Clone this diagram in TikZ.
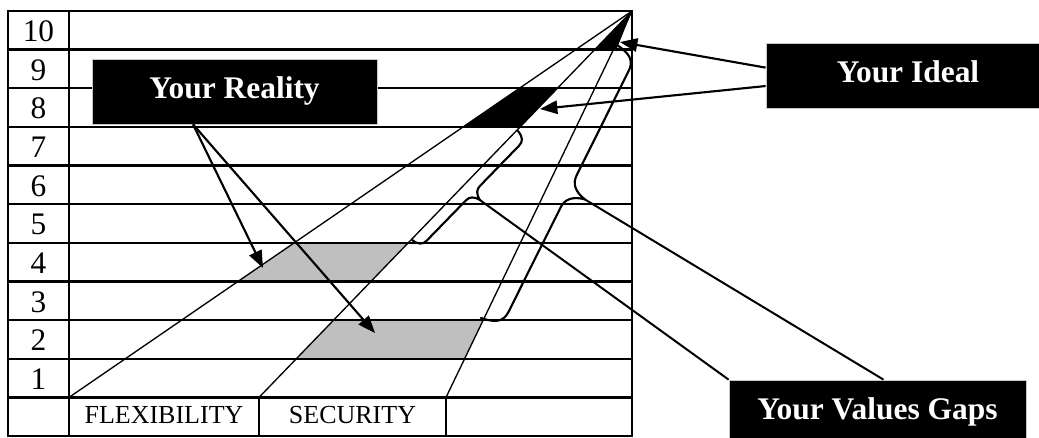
\documentclass[tikz,border=0pt]{standalone}
\usepackage{fontspec}
\setmainfont{Liberation Serif}
\usetikzlibrary{calc,arrows.meta}
\begin{document}
\begin{tikzpicture}[x=0.75pt,y=-0.75pt,
  gridline/.style={line width=1.8pt},
  ray/.style={line width=1.0pt},
  bracepath/.style={line width=1.6pt, line join=round, line cap=round},
  pointer/.style={line width=1.6pt, -{Triangle[length=13pt,width=10pt]}},
  callout/.style={line width=1.5pt},
  labelbox/.style={fill=black, draw=gray!45, line width=0.6pt, text=white,
    font=\fontsize{23.6}{28}\selectfont\bfseries, text height=16.5pt, text depth=5.9pt, inner sep=0pt},
  numtext/.style={font=\fontsize{23.5}{26}\selectfont, inner sep=0pt, anchor=base},
  coltext/.style={font=\fontsize{19.5}{22}\selectfont, inner sep=0pt, anchor=base}
]
\useasboundingbox (0,0) rectangle (1039,437);
\clip (0,0) rectangle (1039,437);

\coordinate (apex) at (632,11);
\coordinate (b1) at (69,397.4);
\coordinate (b2) at (259,397.4);
\coordinate (b3) at (446,397.4);

% fills
\fill[gray!50] ($(apex)!.6!(b1)$) -- ($(apex)!.6!(b2)$) -- ($(apex)!.7!(b2)$) -- ($(apex)!.7!(b1)$) -- cycle;
\fill[gray!50] ($(apex)!.8!(b2)$) -- ($(apex)!.8!(b3)$) -- ($(apex)!.9!(b3)$) -- ($(apex)!.9!(b2)$) -- cycle;
\fill ($(apex)!.2!(b1)$) -- ($(apex)!.2!(b2)$) -- ($(apex)!.3!(b2)$) -- ($(apex)!.3!(b1)$) -- cycle;
\fill (apex) -- ($(apex)!.1!(b2)$) -- ($(apex)!.1!(b3)+(3,0)$) -- cycle;

% table
\foreach \k in {1,...,10} \draw[gridline] (8,{11+38.64*\k}) -- (632,{11+38.64*\k});
\draw[gridline] (8,11) rectangle (632,436);
\draw[gridline] (69,11) -- (69,436);
\draw[gridline] (259,397.4) -- (259,436);
\draw[gridline] (446,397.4) -- (446,436);

% rays
\draw[ray] (apex) -- (b1);
\draw[ray] (apex) -- (b2);
\draw[ray] (apex) -- (b3);

% numbers and column labels
\foreach \n in {1,...,10} \node[numtext] (num\n) at (38.5,{11+38.64*(11-\n)-8}) {\n};
\node[coltext] (flex) at (164,423) {FLEXIBILITY};
\node[coltext] (sec) at (352.5,423) {SECURITY};

% brace A
\begin{scope}[shift={(518,131)}, rotate=-134.2]
  \draw[bracepath] (0,0) .. controls (1,-8) and (4,-11) .. (10,-11) -- (66,-11)
    .. controls (71,-11) and (74.5,-14) .. (76,-21)
    .. controls (77.5,-14) and (81,-11) .. (86,-11) -- (142,-11)
    .. controls (148,-11) and (151,-8) .. (152,0);
  \coordinate (tipA) at (76,-21);
\end{scope}
% brace B
\begin{scope}[shift={(617,45)}, rotate=-116.5]
  \draw[bracepath] (0,0) .. controls (2,-16) and (7,-22) .. (18,-22) -- (134.5,-22)
    .. controls (144,-22) and (150,-28) .. (152.5,-40)
    .. controls (155,-28) and (161,-22) .. (170.5,-22) -- (287,-22)
    .. controls (298,-22) and (303,-16) .. (305,0);
  \coordinate (tipB) at (152.5,-40);
\end{scope}

% label boxes
\node[labelbox, minimum width=213.75pt, minimum height=48.75pt] (reality) at (234.5,91.5) {Your Reality};
\node[labelbox, minimum width=213pt, minimum height=48.75pt] (ideal) at (908,75.5) {Your Ideal};
\node[labelbox, minimum width=222.75pt, minimum height=48.75pt] (gaps) at (877.5,412.5) {Your Values Gaps};

% callouts
\draw[callout] (tipA) -- (gaps.north west);
\draw[callout] (tipB) -- ($(gaps.north west)!0.52!(gaps.north east)$);

% arrows
\coordinate (rfoot) at ($(reality.south west)!0.355!(reality.south east)$);
\coordinate (rt1) at (263,268);
\coordinate (rt2) at (375,333);
\draw[pointer] (rfoot) -- (rt1);
\draw[pointer] (rfoot) -- (rt2);
\coordinate (if1) at ($(ideal.north west)!0.38!(ideal.south west)$);
\coordinate (if2) at ($(ideal.north west)!0.66!(ideal.south west)$);
\coordinate (it1) at (620,42);
\coordinate (it2) at (540,109);
\draw[pointer] (if1) -- (it1);
\draw[pointer] (if2) -- (it2);
\end{tikzpicture}
\end{document}
